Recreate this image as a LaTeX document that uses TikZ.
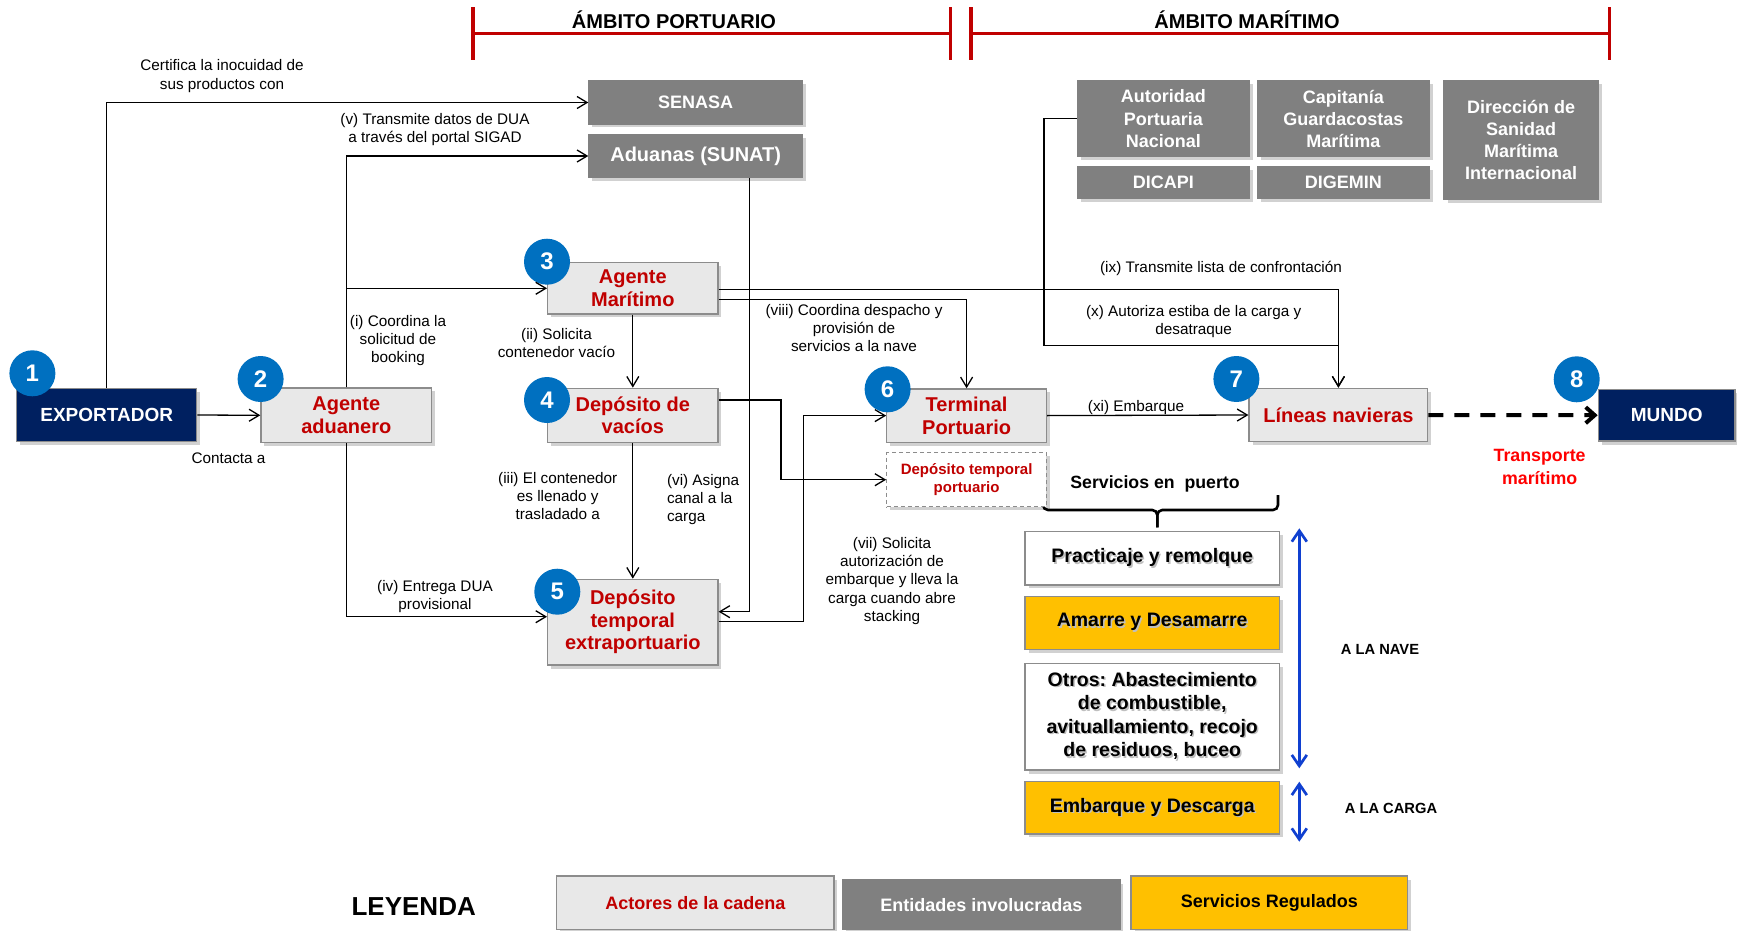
\documentclass[tikz,border=0pt]{standalone}
\usepackage{fontspec}
\setmainfont{Liberation Sans}
\usetikzlibrary{arrows.meta,shadows}
\frenchspacing

\definecolor{navy}{HTML}{002060}
\definecolor{actorred}{HTML}{C00000}
\definecolor{entgray}{HTML}{808080}
\definecolor{actorfill}{HTML}{E8E8E8}
\definecolor{edgegray}{HTML}{8C8C8C}
\definecolor{numblue}{HTML}{0070C0}
\definecolor{svcyellow}{HTML}{FFC000}
\definecolor{scopeblue}{HTML}{1040D0}
\definecolor{brightred}{HTML}{FF0000}
\definecolor{scoperedbar}{HTML}{C00000}

\newcommand{\fsz}[2]{\fontsize{#1}{#2}\selectfont}
% text with a soft offset shadow, one line at a time
\newcommand{\shd}[1]{\leavevmode\rlap{\kern1.5pt\raisebox{-1.5pt}{\textcolor{black!25}{#1}}}#1}

\tikzset{
  box/.style={draw=edgegray, line width=1.3pt, inner sep=0pt, align=center,
    drop shadow={shadow xshift=3.5pt, shadow yshift=-3.5pt, fill=black, opacity=0.18}},
  actor/.style={box, fill=actorfill, text=actorred, font=\bfseries\fsz{20}{22.5}},
  entity/.style={box, fill=entgray, draw=entgray, text=white, font=\bfseries\fsz{18}{22.3}},
  endpoint/.style={box, fill=navy, text=white, font=\bfseries\fsz{19}{22}},
  svc/.style={box, fill=white, text=black, font=\bfseries\fsz{19.5}{23.5},
    minimum width=254.3pt},
  num/.style={circle, fill=numblue, text=white, font=\bfseries\fsz{24}{24},
    minimum size=46pt, inner sep=0pt},
  % multi-line labels are anchored at the baseline of their last line
  lbl/.style={font=\fsz{15.3}{18.3}, align=center, anchor=base, inner sep=0pt},
  conn/.style={line width=1.3pt, -{Straight Barb[length=10pt,width=12pt]}},
  seaarrow/.style={line width=4pt, dash pattern=on 15pt off 11pt,
    -{Straight Barb[length=9pt,width=16pt]}},
  scopearrow/.style={line width=2.7pt, draw=scopeblue,
    {Straight Barb[length=11pt,width=15pt]}-{Straight Barb[length=11pt,width=15pt]}},
  bracebar/.style={line width=2.6pt, rounded corners=5pt},
  redbar/.style={line width=3.3pt, draw=scoperedbar},
  heading/.style={font=\bfseries\fsz{20}{22}, anchor=base, inner sep=0pt}
}

\begin{document}
\begin{tikzpicture}[x=1pt, y=-1pt]
\useasboundingbox (0,0) rectangle (1737,931);

% ---- scope headings ----
\draw[redbar] (473,7.3) -- (473,60) (473,33.3) -- (950.6,33.3) (950.6,7.3) -- (950.6,60);
\draw[redbar] (971,7.3) -- (971,60) (971,33.3) -- (1609.6,33.3) (1609.6,7.3) -- (1609.6,60);
\node[heading] (hport) at (674,29) {ÁMBITO PORTUARIO};
\node[heading] (hmar) at (1247,29) {ÁMBITO MARÍTIMO};

% ---- brace over port services ----
\draw[bracebar] (1043,496) -- (1043,510) -- (1157.3,510) -- (1157.3,527.3);
\draw[bracebar] (1278,495) -- (1278,510) -- (1157.3,510) -- (1157.3,527.3);

% ---- chain actors ----
\node[endpoint, minimum width=180pt, minimum height=53.4pt] (exp) at (106.7,415) {EXPORTADOR};
\node[actor, minimum width=170.7pt, minimum height=54.7pt] (adu) at (346.3,415.3) {Agente\\aduanero};
\node[actor, minimum width=170.3pt, minimum height=51.3pt] (amar) at (632.8,288.3) {Agente\\Marítimo};
\node[actor, minimum width=170.3pt, minimum height=54pt] (dvac) at (632.8,415.3) {Depósito de\\vacíos};
\node[actor, minimum width=170.3pt, minimum height=85.7pt] (dtmp) at (632.8,622.2) {Depósito\\temporal\\extraportuario};
\node[actor, minimum width=159.6pt, minimum height=53.3pt] (term) at (966.6,415.6) {Terminal\\Portuario};
\node[box, dash pattern=on 4pt off 3pt, fill=white, text=actorred, font=\bfseries\fsz{15}{18},
  minimum width=159.6pt, minimum height=54pt] (dport) at (966.6,479.7) {Depósito temporal\\portuario};
\node[actor, minimum width=178.7pt, minimum height=53.4pt] (lin) at (1338.4,415) {Líneas navieras};
\node[endpoint, minimum width=136.7pt, minimum height=51.7pt] (mundo) at (1666.7,415.2) {MUNDO};

% ---- entities ----
\node[entity, font=\bfseries\fsz{18}{22}, minimum width=213.5pt, minimum height=43pt] (senasa) at (695.7,102.5) {SENASA};
\node[entity, font=\bfseries\fsz{20}{22}, minimum width=213.5pt, minimum height=42.6pt] (sunat) at (695.7,156) {Aduanas (SUNAT)};
\node[entity, minimum width=171.4pt, minimum height=75.7pt] (apn) at (1163.3,118.8) {Autoridad\\Portuaria\\Nacional};
\node[entity, minimum width=171.4pt, minimum height=32pt] (dicapi) at (1163.3,182.7) {DICAPI};
\node[entity, minimum width=171.4pt, minimum height=75.7pt] (cgm) at (1343.3,118.8) {Capitanía\\Guardacostas\\Marítima};
\node[entity, minimum width=171.4pt, minimum height=32pt] (digemin) at (1343.3,182.7) {DIGEMIN};
\node[entity, minimum width=154.4pt, minimum height=118pt] (dsmi) at (1521.2,140) {Dirección de\\Sanidad\\Marítima\\Internacional};

% ---- port services ----
\node[svc, minimum height=53.3pt] (prac) at (1152.2,558.3) {\shd{Practicaje y remolque}};
\node[svc, fill=svcyellow, minimum height=52.6pt] (amarre) at (1152.2,623) {\shd{Amarre y Desamarre}};
\node[svc, minimum height=106.7pt] (otros) at (1152.2,716.7)
  {\shd{Otros: Abastecimiento}\\\shd{de combustible,}\\\shd{avituallamiento, recojo}\\\shd{de residuos, buceo}};
\node[svc, fill=svcyellow, minimum height=52.3pt] (emb) at (1152.2,807.8) {\shd{Embarque y Descarga}};

% ---- step numbers ----
\node[num] (n1) at (32.4,373.3) {1};
\node[num] (n2) at (260.6,379) {2};
\node[num] (n3) at (547,261.7) {3};
\node[num] (n4) at (547,400) {4};
\node[num] (n5) at (557.3,591.7) {5};
\node[num] (n6) at (887.6,389.3) {6};
\node[num] (n7) at (1236.4,379) {7};
\node[num] (n8) at (1576.7,379.3) {8};

% ---- flows ----
\draw[conn] (exp.north) |- (senasa.west);
\draw[conn] (adu.north) |- (sunat.west);
\draw[conn] (adu.north) |- (amar.west);
\draw[conn] (exp.east) -- (adu.west);
\draw[conn] (adu.south) |- ([yshift=5.5pt]dtmp.west);
\draw[conn] (amar.south) -- (dvac.north);
\draw[conn] (dvac.south) -- (dtmp.north);
\draw[conn] ([xshift=54pt]sunat.south) |- ([yshift=10.5pt]dtmp.east);
\draw[conn] ([yshift=0.5pt]dtmp.east) -- ++(84.8,0) |- (term.west);
\draw[conn] ([yshift=15.3pt]dvac.east) -- ++(62.4,0) |- (dport.west);
\draw[conn] ([yshift=-1pt]amar.east) -| (lin.north);
\draw[conn] ([yshift=-11pt]amar.east) -| (term.north);
\draw[conn] (apn.west) -- ++(-33,0) |- ([yshift=42.3pt]lin.north) -- (lin.north);
\draw[conn] (term.east) -- (lin.west);
\draw[seaarrow] (lin.east) -- (mundo.west);

% ---- scope of the services ----
\coordinate (naveA) at (1299.3,528.3);
\coordinate (naveB) at (1299.3,768.3);
\coordinate (cargaA) at (1299.3,781.7);
\coordinate (cargaB) at (1299.3,841.7);
\draw[scopearrow] (naveA) -- (naveB);
\draw[scopearrow] (cargaA) -- (cargaB);

% ---- flow labels ----
\node[lbl] (t1) at (222,89.3) {Certifica la inocuidad de\\sus productos con};
\node[lbl] (t2) at (435,142.6) {(v) Transmite datos de DUA\\a través del portal SIGAD};
\node[lbl] (t3) at (228.5,463.5) {Contacta a};
\node[lbl] (t4) at (398,362.6) {(i) Coordina la\\solicitud de\\booking};
\node[lbl] (t5) at (556.5,357.3) {(ii) Solicita\\contenedor vacío};
\node[lbl] (t6) at (557.7,519.9) {(iii) El contenedor\\es llenado y\\trasladado a};
\node[lbl] (t7) at (435,609.3) {(iv) Entrega DUA\\provisional};
\node[lbl, anchor=base west, align=left] (t8) at (666.8,521.9) {(vi) Asigna\\canal a la\\carga};
\node[lbl] (t9) at (892,621.5) {(vii) Solicita\\autorización de\\embarque y lleva la\\carga cuando abre\\stacking};
\node[lbl] (t10) at (854,351.6) {(viii) Coordina despacho y\\provisión de\\servicios a la nave};
\node[lbl] (t11) at (1221,272.7) {(ix) Transmite lista de confrontación};
\node[lbl] (t12) at (1193.7,334.3) {(x) Autoriza estiba de la carga y\\desatraque};
\node[lbl] (t13) at (1136,411.7) {(xi) Embarque};
\node[lbl, font=\bfseries\fsz{17.8}{22.7}, text=brightred] (t14) at (1539.6,484.1) {Transporte\\marítimo};
\node[lbl, font=\bfseries\fsz{17.7}{20}] (t15) at (1155,488.4) {Servicios en\ \ puerto};
\node[lbl, font=\bfseries\fsz{14.7}{17}] (t16) at (1380,654) {A LA NAVE};
\node[lbl, font=\bfseries\fsz{14.7}{17}] (t17) at (1391,813.3) {A LA CARGA};

% ---- legend ----
\node[lbl, font=\bfseries\fsz{26}{28}] (leg) at (413.7,915) {LEYENDA};
\node[actor, font=\bfseries\fsz{18}{20}, minimum width=277.3pt, minimum height=53.3pt] (lg1) at (695.3,902.7) {Actores de la cadena};
\node[entity, font=\bfseries\fsz{18}{20}, minimum width=277.3pt, minimum height=49.3pt] (lg2) at (981.3,904.7) {Entidades involucradas};
\node[svc, fill=svcyellow, font=\bfseries\fsz{18}{20}, minimum width=276.5pt, minimum height=53.3pt] (lg3) at (1269.3,902.7) {Servicios Regulados};
\end{tikzpicture}
\end{document}
